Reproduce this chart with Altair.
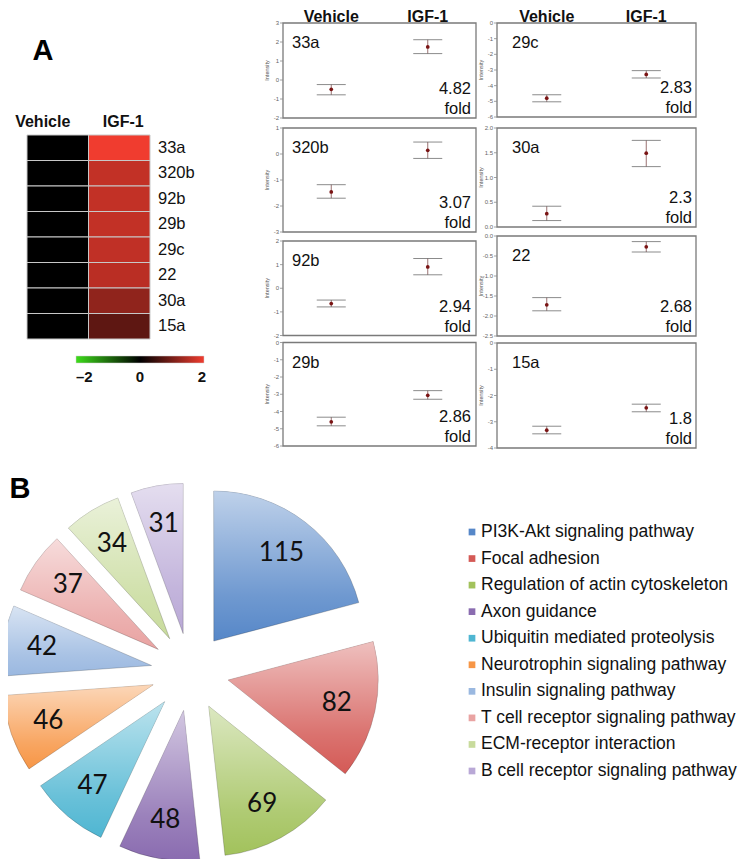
import math
import altair as alt
import pandas as pd

# ---------------- data ----------------
conditions = ["Vehicle", "IGF-1"]

heat_mirnas = ["33a", "320b", "92b", "29b", "29c", "22", "30a", "15a"]
heat_vehicle = [0, 0, 0, 0, 0, 0, 0, 0]
heat_igf1 = [2.0, 1.62, 1.62, 1.62, 1.6, 1.55, 1.2, 0.78]
colorbar_ticks = [-2, 0, 2]
colorbar_labels = ["\u20132", "0", "2"]

panel_mirnas = ["33a", "320b", "92b", "29b", "29c", "30a", "22", "15a"]
panel_fold = ["4.82", "3.07", "2.94", "2.86", "2.83", "2.3", "2.68", "1.8"]
vehicle_mean = [-0.49, -1.46, -0.65, -4.60, -4.80, 0.27, -1.72, -3.32]
vehicle_low = [-0.78, -1.70, -0.79, -4.83, -5.03, 0.13, -1.87, -3.46]
vehicle_high = [-0.24, -1.18, -0.50, -4.33, -4.58, 0.42, -1.54, -3.17]
igf1_mean = [1.74, 0.14, 0.90, -3.06, -3.28, 1.49, -0.27, -2.47]
igf1_low = [1.39, -0.17, 0.57, -3.29, -3.51, 1.22, -0.40, -2.62]
igf1_high = [2.12, 0.46, 1.26, -2.79, -3.04, 1.75, -0.14, -2.33]
axis_min = [-2, -3, -2, -6, -6, 0, -2.5, -4]
axis_max = [3, 1, 2, 0, 0, 2, 0, 0]
axis_step = [1, 1, 1, 1, 1, 0.5, 0.5, 1]

pathways = [
    "PI3K-Akt signaling pathway",
    "Focal adhesion",
    "Regulation of actin cytoskeleton",
    "Axon guidance",
    "Ubiquitin mediated proteolysis",
    "Neurotrophin signaling pathway",
    "Insulin signaling pathway",
    "T cell receptor signaling pathway",
    "ECM-receptor interaction",
    "B cell receptor signaling pathway",
]
gene_counts = [115, 82, 69, 48, 47, 46, 42, 37, 34, 31]

# ---------------- style / layout ----------------
SANS = "Liberation Sans"
PIE_FONT = "Lato"
W, H = 736, 851
M = 8


def c(v):
    return v - M


pie_colors = ["#5687c8", "#d45a56", "#a2c25c", "#8a6cb0", "#4fb6d2",
              "#f79646", "#9ab8e0", "#e9a3a2", "#c8db9c", "#b9a8d6"]

left_x = (283, 476)
right_x = (497, 696)
rows_left = [(23, 118), (128, 232), (241, 335.5), (342.5, 446)]
rows_right = [(23, 117), (128, 227), (236, 336), (343, 448)]


def panel(i):
    col = 0 if i < 4 else 1
    x0, x1 = (left_x, right_x)[col]
    y0, y1 = (rows_left, rows_right)[col][i % 4]
    df = pd.DataFrame({
        "group": conditions,
        "mean": [vehicle_mean[i], igf1_mean[i]],
        "low": [vehicle_low[i], igf1_low[i]],
        "high": [vehicle_high[i], igf1_high[i]],
    })
    xs = alt.Scale(type="point", domain=conditions, range=[c(x0), c(x1)], padding=0.5)
    ys = alt.Scale(domain=[axis_min[i], axis_max[i]], range=[c(y1), c(y0)], nice=False, zero=False)
    n = int(round((axis_max[i] - axis_min[i]) / axis_step[i]))
    ticks = [axis_min[i] + k * axis_step[i] for k in range(n + 1)]
    labels = [f"{t:.1f}" if axis_step[i] < 1 else f"{int(round(t))}" for t in ticks]
    X = alt.X("group:N", scale=xs, axis=None)
    base = alt.Chart(df)
    frame_df = pd.DataFrame({"top": [axis_max[i]], "bottom": [axis_min[i]]})
    frame = alt.Chart(frame_df).mark_rect(fillOpacity=0, stroke="#7a7a7a", strokeWidth=1.3).encode(
        x=alt.value(c(x0)), x2=alt.value(c(x1)),
        y=alt.Y("top:Q", scale=ys, axis=None), y2="bottom:Q")
    tick_df = pd.DataFrame({"v": ticks, "lab": labels})
    tick_marks = alt.Chart(tick_df).mark_rule(color="#8a8a8a", strokeWidth=0.8).encode(
        x=alt.value(c(x0) - 3), x2=alt.value(c(x0)), y=alt.Y("v:Q", axis=None))
    tick_text = alt.Chart(tick_df).mark_text(align="right", baseline="middle", fontSize=6,
                                             font=SANS, color="#666").encode(
        x=alt.value(c(x0) - 4), y=alt.Y("v:Q", axis=None), text="lab:N")
    title_df = pd.DataFrame({"t": ["Intensity"]})
    title_t = alt.Chart(title_df).mark_text(angle=270, baseline="middle", fontSize=5.5, font=SANS,
                                            color="#555").encode(
        x=alt.value(c(x0) - 16), y=alt.value((c(y0) + c(y1)) / 2), text="t:N")
    stem = base.mark_rule(color="#9a7272", strokeWidth=1).encode(
        x=X, y=alt.Y("low:Q", axis=None), y2="high:Q")
    cap_lo = base.mark_tick(size=29, thickness=1, color="#5a5a5a", orient="horizontal").encode(
        x=X, y=alt.Y("low:Q", axis=None))
    cap_hi = base.mark_tick(size=29, thickness=1, color="#5a5a5a", orient="horizontal").encode(
        x=X, y=alt.Y("high:Q", axis=None))
    dot = base.mark_point(filled=True, shape="circle", size=14, color="#7a1414", opacity=1).encode(
        x=X, y=alt.Y("mean:Q", axis=None))
    txt_df = pd.DataFrame({"name": [panel_mirnas[i]], "fold": [panel_fold[i]], "unit": ["fold"]})
    lab_dx = 9 if col == 0 else 15
    rgt_dx = 5 if col == 0 else 4
    name_t = alt.Chart(txt_df).mark_text(align="left", baseline="middle", fontSize=16.5, font=SANS,
                                          color="#111").encode(
        x=alt.value(c(x0) + lab_dx), y=alt.value(c(y0) + 20), text="name:N")
    fold_t = alt.Chart(txt_df).mark_text(align="right", baseline="middle", fontSize=16.5, font=SANS,
                                          color="#111").encode(
        x=alt.value(c(x1) - rgt_dx), y=alt.value(c(y1) - 29), text="fold:N")
    unit_t = alt.Chart(txt_df).mark_text(align="right", baseline="middle", fontSize=16.5, font=SANS,
                                          color="#111").encode(
        x=alt.value(c(x1) - rgt_dx), y=alt.value(c(y1) - 9), text="unit:N")
    layers = [frame, tick_marks, tick_text, title_t, stem, cap_lo, cap_hi, dot, name_t, fold_t, unit_t]
    if i % 4 == 0:
        head = base.mark_text(fontSize=16, fontWeight="bold", font=SANS, color="#111",
                              baseline="middle").encode(
            x=X, y=alt.value(c(17)), text="group:N")
        layers.append(head)
    return alt.layer(*layers)


# ---------------- heatmap ----------------
heat_df = pd.DataFrame({
    "mirna": heat_mirnas * 2,
    "condition": [conditions[0]] * len(heat_mirnas) + [conditions[1]] * len(heat_mirnas),
    "value": heat_vehicle + heat_igf1,
})
hx = alt.Scale(type="band", domain=conditions, range=[c(27), c(150)], paddingInner=0, paddingOuter=0)
hy = alt.Scale(type="band", domain=heat_mirnas, range=[c(135), c(339)], paddingInner=0, paddingOuter=0)
heat_color = alt.Scale(domain=[-2, 0, 2], range=["#3ddc1a", "#000000", "#f03c2f"], interpolate="rgb")
cells = alt.Chart(heat_df).mark_rect(stroke="#c8c8c8", strokeWidth=1).encode(
    x=alt.X("condition:N", scale=hx, axis=None),
    y=alt.Y("mirna:N", scale=hy, axis=None),
    color=alt.Color("value:Q", scale=heat_color, legend=None),
)
row_labels = alt.Chart(pd.DataFrame({"mirna": heat_mirnas})).mark_text(
    align="left", baseline="middle", fontSize=16.5, font=SANS, color="#111").encode(
    y=alt.Y("mirna:N", axis=None), x=alt.value(c(158)), text="mirna:N")
head_df = pd.DataFrame({"condition": conditions})
head_v = alt.Chart(head_df).transform_filter(alt.datum.condition == conditions[0]).mark_text(
    fontSize=16, fontWeight="bold", font=SANS, color="#111", dx=-15, baseline="middle").encode(
    x=alt.X("condition:N", axis=None), y=alt.value(c(122)), text="condition:N")
head_i = alt.Chart(head_df).transform_filter(alt.datum.condition == conditions[1]).mark_text(
    fontSize=16, fontWeight="bold", font=SANS, color="#111", dx=4, baseline="middle").encode(
    x=alt.X("condition:N", axis=None), y=alt.value(c(122)), text="condition:N")
heatmap = alt.layer(cells, row_labels, head_v, head_i)

# ---------------- colour bar ----------------
cb_df = pd.DataFrame({"tick": colorbar_ticks, "label": colorbar_labels})
cbx = alt.Scale(domain=[min(colorbar_ticks), max(colorbar_ticks)], range=[c(76), c(204)], nice=False, zero=False)
cb_grad = alt.LinearGradient(
    gradient="linear", x1=0, x2=1, y1=0, y2=0,
    stops=[alt.GradientStop(color="#3ddc1a", offset=0),
           alt.GradientStop(color="#000000", offset=0.5),
           alt.GradientStop(color="#f03c2f", offset=1)])
cb_bar = alt.Chart(cb_df).transform_aggregate(lo="min(tick)", hi="max(tick)").mark_rect(
    fill=cb_grad, stroke="#d0d0d0", strokeWidth=0.5).encode(
    x=alt.X("lo:Q", scale=cbx, axis=None), x2="hi:Q",
    y=alt.value(c(356)), y2=alt.value(c(363)))
cb_layers = [cb_bar]
for tick, align, shift in zip(colorbar_ticks, ["left", "center", "right"], [0, 0, 2]):
    cb_layers.append(
        alt.Chart(cb_df).transform_filter(alt.datum.tick == tick).mark_text(
            fontSize=15, fontWeight="bold", font=SANS, color="#111", baseline="middle",
            align=align, dx=shift).encode(
            x=alt.X("tick:Q", axis=None), y=alt.value(c(377)), text="label:N"))
colorbar = alt.layer(*cb_layers)

# ---------------- exploded pie ----------------
pie_cx, pie_cy = 190, 672
EXPLODE = 39
LABEL_R = 150
RADIUS = 150
SPAN = 220
total = sum(gene_counts)
pie_df = pd.DataFrame({"pathway": pathways, "count": gene_counts, "order": list(range(len(pathways)))})
pxs = alt.Scale(domain=[-SPAN, SPAN], range=[c(pie_cx) - SPAN, c(pie_cx) + SPAN], nice=False, zero=False)
pys = alt.Scale(domain=[-SPAN, SPAN], range=[c(pie_cy) - SPAN, c(pie_cy) + SPAN], nice=False, zero=False)
pie_base = alt.Chart(pie_df).transform_window(
    cum="sum(count)", sort=[alt.SortField("order", order="ascending")]
).transform_joinaggregate(tot="sum(count)").transform_calculate(
    start="datum.cum - datum.count",
    mid="(datum.cum - datum.count / 2) / datum.tot * 2 * PI",
).transform_calculate(
    ex=f"{EXPLODE} * sin(datum.mid)",
    ey=f"-{EXPLODE} * cos(datum.mid)",
    lx=f"{LABEL_R} * sin(datum.mid)",
    ly=f"-{LABEL_R} * cos(datum.mid)",
)
theta_scale = alt.Scale(domain=[0, total], range=[0, 2 * math.pi])
arcs = pie_base.mark_arc(outerRadius=RADIUS, stroke="rgba(0,0,0,0.25)", strokeWidth=0.8).encode(
    x=alt.X("ex:Q", scale=pxs, axis=None),
    y=alt.Y("ey:Q", scale=pys, axis=None),
    theta=alt.Theta("start:Q", scale=theta_scale),
    theta2="cum:Q",
    color=alt.Color("pathway:N", scale=alt.Scale(domain=pathways, range=pie_colors), legend=None),
)
shine = alt.LinearGradient(
    gradient="linear", x1=0, x2=0, y1=0, y2=1,
    stops=[alt.GradientStop(color="rgba(255,255,255,0.62)", offset=0),
           alt.GradientStop(color="rgba(255,255,255,0.15)", offset=0.7),
           alt.GradientStop(color="rgba(255,255,255,0)", offset=1)])
arcs_shine = pie_base.mark_arc(outerRadius=RADIUS, fill=shine).encode(
    x=alt.X("ex:Q", axis=None),
    y=alt.Y("ey:Q", axis=None),
    theta=alt.Theta("start:Q"),
    theta2="cum:Q",
)
pie_labels = pie_base.mark_text(font=PIE_FONT, fontSize=26, color="#111", baseline="middle").encode(
    x=alt.X("lx:Q", axis=None), y=alt.Y("ly:Q", axis=None), text="count:Q")
pie = alt.layer(arcs, arcs_shine, pie_labels)

# ---------------- pie legend ----------------
leg_df = pd.DataFrame({"pathway": pathways})
leg_y = alt.Scale(type="point", domain=pathways, range=[c(532), c(771)], padding=0)
leg_marks = alt.Chart(leg_df).mark_square(size=45, opacity=1).encode(
    x=alt.value(c(472)),
    y=alt.Y("pathway:N", scale=leg_y, axis=None),
    color=alt.Color("pathway:N", scale=alt.Scale(domain=pathways, range=pie_colors), legend=None),
)
leg_text = alt.Chart(leg_df).mark_text(align="left", baseline="middle", fontSize=17.5, font=SANS,
                                        color="#111").encode(
    x=alt.value(c(481)), y=alt.Y("pathway:N", axis=None), text="pathway:N")
legend = alt.layer(leg_marks, leg_text)

# ---------------- panel letters ----------------
letters = alt.layer(
    alt.Chart(pd.DataFrame({"t": ["A"]})).mark_text(fontSize=29, fontWeight="bold", font=SANS,
                                                    color="#000", baseline="middle").encode(
        x=alt.value(c(43)), y=alt.value(c(51)), text="t:N"),
    alt.Chart(pd.DataFrame({"t": ["B"]})).mark_text(fontSize=29, fontWeight="bold", font=SANS,
                                                    color="#000", baseline="middle").encode(
        x=alt.value(c(20)), y=alt.value(c(489)), text="t:N"),
)

chart = alt.layer(
    heatmap, colorbar, *[panel(i) for i in range(8)], pie, legend, letters
).resolve_scale(
    x="independent", y="independent", color="independent"
).properties(
    width=W, height=H, autosize=alt.AutoSizeParams(type="none"), padding=0
).configure_view(stroke=None)

chart.save("out.html", embed_options={"renderer": "svg", "actions": False})
